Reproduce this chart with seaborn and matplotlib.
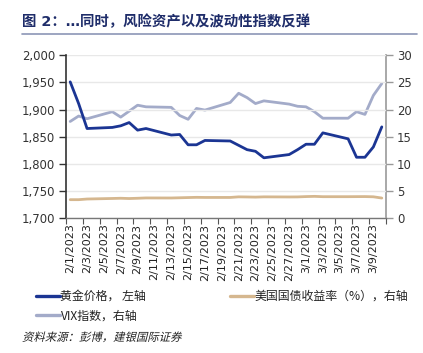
import numpy as np
import pandas as pd
import matplotlib
matplotlib.use("Agg")
import matplotlib.pyplot as plt
from matplotlib.lines import Line2D
from matplotlib.textpath import TextPath
from matplotlib.patches import PathPatch
from matplotlib.font_manager import FontProperties
from matplotlib.transforms import Affine2D
import seaborn as sns

dates = ["2023-02-01", "2023-02-02", "2023-02-03", "2023-02-06", "2023-02-07", "2023-02-08",
         "2023-02-09", "2023-02-10", "2023-02-13", "2023-02-14", "2023-02-15", "2023-02-16",
         "2023-02-17", "2023-02-20", "2023-02-21", "2023-02-22", "2023-02-23", "2023-02-24",
         "2023-02-27", "2023-02-28", "2023-03-01", "2023-03-02", "2023-03-03", "2023-03-06",
         "2023-03-07", "2023-03-08", "2023-03-09", "2023-03-10"]
gold = [1951, 1911, 1865, 1867, 1870, 1876, 1862, 1865, 1853, 1854, 1835, 1835, 1843, 1842,
        1834, 1826, 1823, 1811, 1817, 1826, 1836, 1836, 1857, 1846, 1812, 1812, 1831, 1868]
vix = [17.8, 18.8, 18.3, 19.6, 18.6, 19.7, 20.8, 20.5, 20.4, 18.9, 18.2, 20.2, 19.9, 21.3,
       23.0, 22.2, 21.1, 21.6, 21.0, 20.6, 20.5, 19.6, 18.4, 18.4, 19.6, 19.1, 22.6, 24.8]
ust = [3.38, 3.38, 3.50, 3.60, 3.64, 3.59, 3.64, 3.70, 3.69, 3.73, 3.77, 3.81, 3.79, 3.79,
       3.90, 3.88, 3.85, 3.90, 3.88, 3.89, 3.95, 3.99, 3.93, 3.93, 3.94, 3.95, 3.91, 3.68]

title = "图 2：…同时，风险资产以及波动性指数反弹"
label_gold = "黄金价格， 左轴"
label_ust = "美国国债收益率（%），右轴"
label_vix = "VIX指数，右轴"
source = "资料来源：彭博，建银国际证券"

left_ticks = [1700, 1750, 1800, 1850, 1900, 1950, 2000]
right_ticks = [0, 5, 10, 15, 20, 25, 30]

c_gold = "#1B3593"
c_vix = "#A3ABC9"
c_ust = "#D5B78F"

sns.set_theme(style="white")
plt.rcParams["font.family"] = ["DejaVu Sans", "Noto Sans CJK SC"]

df = pd.DataFrame({"date": pd.to_datetime(dates), "gold": gold, "vix": vix, "ust": ust})

W, H = 423, 353
fig = plt.figure(figsize=(W / 100, H / 100), dpi=100)
ax = fig.add_axes([66 / W, 1 - 218 / H, (386 - 66) / W, (218 - 55.3) / H])
ax2 = ax.twinx()

sns.lineplot(data=df, x="date", y="gold", ax=ax, color=c_gold, lw=2.0, zorder=5)
sns.lineplot(data=df, x="date", y="ust", ax=ax2, color=c_ust, lw=2.0)
sns.lineplot(data=df, x="date", y="vix", ax=ax2, color=c_vix, lw=2.0)
ax.set_zorder(ax2.get_zorder() + 1)
ax.patch.set_visible(False)

ax.set_ylim(1700, 2000)
ax2.set_ylim(0, 30)
ax.set_yticks(left_ticks)
ax.set_yticklabels([f"{v:,}" for v in left_ticks])
ax2.set_yticks(right_ticks)

start = pd.Timestamp("2023-02-01")
end = pd.Timestamp("2023-03-10")
half = pd.Timedelta(hours=12)
ax.set_xlim(start - half, end + half)
major = pd.date_range(start, "2023-03-09", freq="2D")
minor = pd.date_range(start - half, end + half, freq="2D")
ax.set_xticks(major)
ax.set_xticklabels([f"{d.month}/{d.day}/{d.year}" for d in major], rotation=90,
                   fontsize=8.0, color="#222222")
ax.set_xticks(minor, minor=True)
ax.tick_params(axis="x", which="major", length=0, pad=4)
ax.tick_params(axis="x", which="minor", length=4, width=0.8, color="#555555", bottom=True)
ax.set_xlabel("")
ax.set_ylabel("")
ax2.set_xlabel("")
ax2.set_ylabel("")

ax.grid(axis="y", color="#E8E8E8", lw=1.0)
ax.set_axisbelow(True)
ax2.grid(False)
ax.tick_params(axis="y", length=5, width=1.0, color="#333333", labelsize=8.4,
               labelcolor="#333333", left=True, pad=3)
ax2.tick_params(axis="y", length=5, width=1.0, color="#999999", labelsize=8.4,
                labelcolor="#333333", right=True, pad=3)

for a in (ax, ax2):
    a.spines["top"].set_visible(False)
ax.spines["left"].set_color("#333333")
ax.spines["left"].set_linewidth(1.2)
ax.spines["right"].set_visible(False)
ax.spines["bottom"].set_color("#777777")
ax.spines["bottom"].set_linewidth(1.0)
ax2.spines["right"].set_color("#999999")
ax2.spines["right"].set_linewidth(1.2)
ax2.spines["left"].set_visible(False)
ax2.spines["bottom"].set_visible(False)

cjk = ["Noto Sans CJK SC", "DejaVu Sans"]
title_fam = ["DejaVu Sans", "Noto Sans CJK SC"]
fig.text(22 / W, 1 - 22 / H, title, fontsize=10.4, fontweight="bold", color="#1F2D6A",
         family=title_fam, ha="left", va="center")
fig.add_artist(Line2D([22 / W, 417 / W], [1 - 34 / H, 1 - 34 / H], color="#8C96B6", lw=1.2))

h_gold = Line2D([], [], color=c_gold, lw=2.4)
h_vix = Line2D([], [], color=c_vix, lw=2.4)
h_ust = Line2D([], [], color=c_ust, lw=2.4)
leg1 = fig.legend([h_gold, h_vix], [label_gold, label_vix], loc="upper left",
                  bbox_to_anchor=(36 / W, 1 - 290 / H), frameon=False,
                  prop={"family": cjk, "size": 8.6}, handlelength=2.0, handletextpad=0.05,
                  labelspacing=0.55, borderaxespad=0, borderpad=0)
leg2 = fig.legend([h_ust], [label_ust], loc="upper left",
                  bbox_to_anchor=(230 / W, 1 - 290 / H), frameon=False,
                  prop={"family": cjk, "size": 8.6}, handlelength=2.0, handletextpad=0.05,
                  borderaxespad=0, borderpad=0)
for leg in (leg1, leg2):
    for t in leg.get_texts():
        t.set_color("#222222")

# italic-looking source note (CJK fonts have no italic face, so skew the glyph outlines)
tp = TextPath((0, 0), source, prop=FontProperties(family="Noto Sans CJK SC", size=8.2))
tr = Affine2D().skew_deg(14, 0).scale(1 / 72).translate(22 / 100, (H - 341) / 100) \
    + fig.dpi_scale_trans
fig.add_artist(PathPatch(tp, transform=tr, color="#222222", lw=0))

fig.savefig("out.png", dpi=100, facecolor="white")
